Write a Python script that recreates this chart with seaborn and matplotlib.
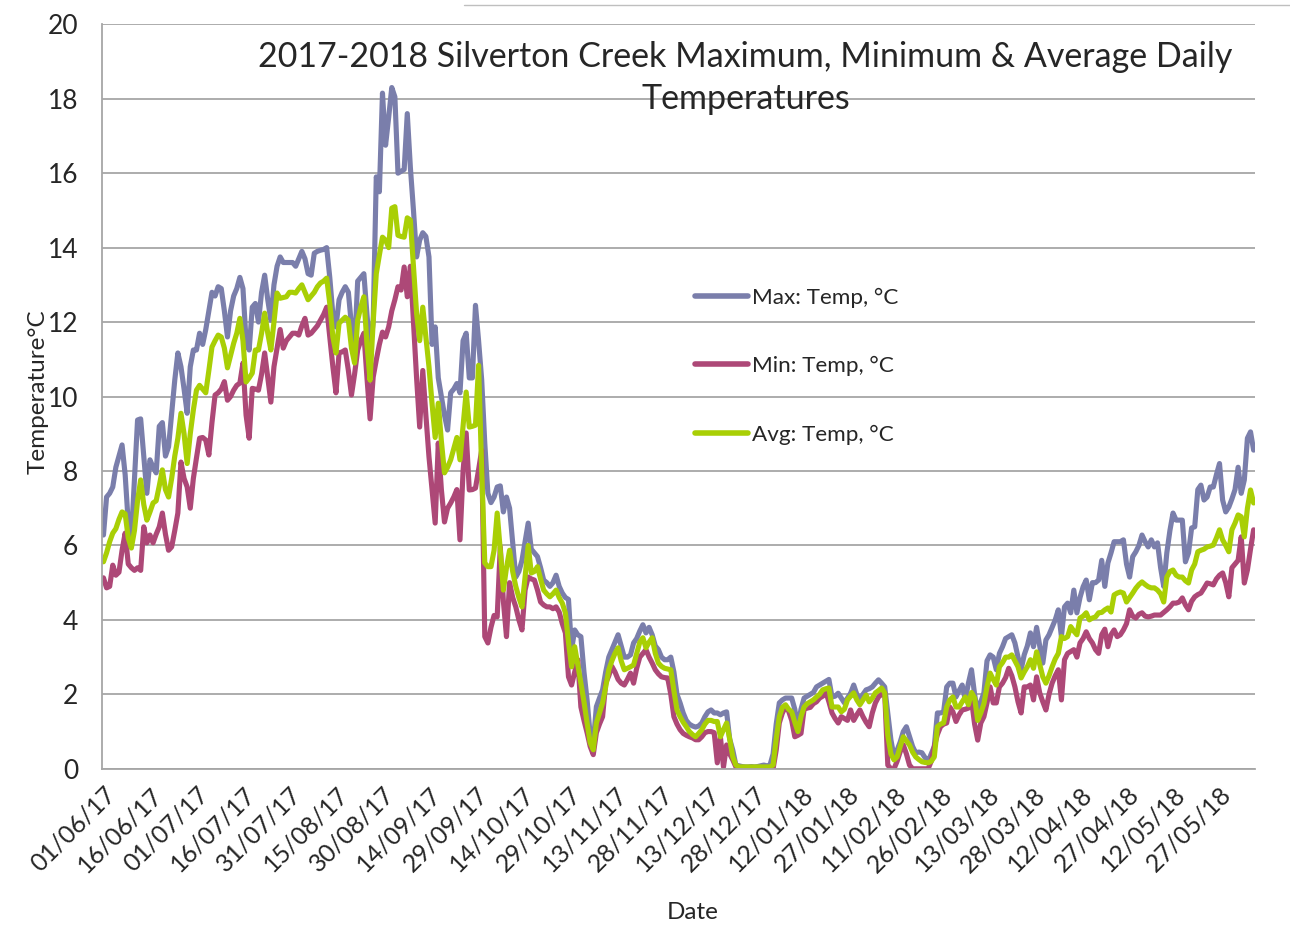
import pandas as pd
import matplotlib
matplotlib.use("Agg")
import matplotlib.pyplot as plt
import seaborn as sns

# daily values, 01/06/17 onwards
start_date = "2017-06-01"

max_temp = [
    6.28, 7.3, 7.4, 7.57, 8.1, 8.4, 8.7, 7.9, 6.6, 6.2,
    7.8, 9.37, 9.4, 8.4, 7.4, 8.3, 8.1, 7.95, 9.2, 9.3,
    8.4, 8.65, 9.55, 10.44, 11.17, 10.8, 10.2, 9.55, 10.8, 11.25,
    11.25, 11.7, 11.4, 11.8, 12.3, 12.8, 12.7, 12.95, 12.9, 12.3,
    11.6, 12.3, 12.7, 12.9, 13.2, 12.9, 11.5, 11.25, 12.4, 12.5,
    12.0, 12.8, 13.26, 12.6, 12.05, 13.0, 13.5, 13.75, 13.6, 13.6,
    13.6, 13.6, 13.5, 13.7, 13.9, 13.7, 13.3, 13.26, 13.85, 13.9,
    13.93, 13.95, 14.0, 13.2, 12.2, 11.87, 12.6, 12.8, 12.95, 12.8,
    11.9, 11.3, 13.1, 13.2, 13.3, 12.2, 11.25, 12.0, 15.9, 15.5,
    18.15, 16.75, 17.5, 18.3, 18.05, 16.0, 16.05, 16.1, 17.6, 16.15,
    15.0, 13.75, 14.2, 14.4, 14.3, 13.75, 11.4, 11.87, 10.5, 10.0,
    9.5, 9.1, 10.1, 10.2, 10.35, 10.1, 11.5, 11.7, 10.5, 10.5,
    12.45, 11.5, 10.45, 8.75, 7.4, 7.15, 7.3, 7.57, 7.6, 6.9,
    7.3, 7.0, 6.07, 5.15, 5.3, 5.6, 6.1, 6.6, 5.9, 5.8,
    5.7, 5.4, 5.07, 5.0, 4.9, 5.0, 5.2, 4.9, 4.72, 4.6,
    4.55, 3.2, 3.73, 3.6, 3.55, 2.6, 1.85, 0.9, 0.7, 1.67,
    1.9, 2.12, 2.6, 3.0, 3.2, 3.4, 3.6, 3.3, 3.0, 3.0,
    3.06, 3.38, 3.5, 3.7, 3.87, 3.65, 3.8, 3.6, 3.3, 3.2,
    3.0, 2.93, 2.93, 3.0, 2.6, 2.0, 1.77, 1.5, 1.3, 1.2,
    1.15, 1.12, 1.15, 1.23, 1.4, 1.53, 1.58, 1.5, 1.5, 1.45,
    1.5, 1.53, 0.8, 0.5, 0.1, 0.08, 0.06, 0.05, 0.05, 0.06,
    0.05, 0.06, 0.08, 0.1, 0.08, 0.1, 0.4, 1.2, 1.77, 1.85,
    1.9, 1.9, 1.9, 1.6, 1.1, 1.6, 1.9, 1.95, 2.0, 2.05,
    2.2, 2.25, 2.3, 2.35, 2.4, 1.93, 1.95, 2.03, 1.9, 1.77,
    1.9, 2.03, 2.25, 2.0, 1.85, 2.0, 2.12, 2.15, 2.2, 2.3,
    2.39, 2.3, 2.2, 1.5, 0.78, 0.32, 0.5, 0.72, 1.0, 1.13,
    0.86, 0.6, 0.43, 0.45, 0.43, 0.3, 0.19, 0.4, 0.6, 1.5,
    1.5, 1.53, 2.2, 2.3, 2.3, 1.93, 2.1, 2.25, 1.85, 2.3,
    2.66, 2.0, 1.5, 1.8, 2.04, 2.9, 3.06, 3.0, 2.66, 3.1,
    3.28, 3.5, 3.55, 3.6, 3.38, 3.0, 2.66, 3.06, 3.3, 3.65,
    3.28, 3.8, 3.3, 2.84, 3.46, 3.6, 3.8, 4.0, 4.27, 3.55,
    4.35, 4.45, 4.19, 4.8, 4.19, 4.6, 4.89, 5.07, 4.54, 5.0,
    5.0, 5.07, 5.6, 4.9, 5.53, 5.8, 6.1, 6.1, 6.1, 6.15,
    5.5, 5.15, 5.7, 5.83, 6.0, 6.28, 6.1, 5.96, 6.15, 5.96,
    6.07, 5.4, 4.9, 5.8, 6.4, 6.87, 6.68, 6.68, 6.68, 5.56,
    5.8, 6.47, 6.5, 7.5, 7.62, 7.22, 7.3, 7.57, 7.57, 7.9,
    8.2, 7.22, 6.9, 7.03, 7.25, 7.5, 8.1, 7.4, 7.76, 8.88,
    9.05, 8.56,
]

min_temp = [
    5.13, 4.86, 4.9, 5.47, 5.2, 5.28, 5.87, 6.33, 5.5, 5.4,
    5.33, 5.4, 5.33, 6.5, 6.07, 6.28, 6.07, 6.3, 6.5, 6.87,
    6.3, 5.87, 5.96, 6.4, 6.87, 8.24, 7.8, 7.57, 7.0, 7.8,
    8.35, 8.88, 8.9, 8.83, 8.43, 9.3, 10.04, 10.1, 10.2, 10.4,
    9.9, 10.0, 10.17, 10.3, 10.36, 10.9, 9.5, 8.88, 10.22, 10.2,
    10.17, 10.6, 11.17, 10.5, 9.85, 10.8, 11.3, 11.8, 11.3, 11.5,
    11.6, 11.7, 11.7, 11.65, 11.9, 12.1, 11.65, 11.7, 11.8, 11.9,
    12.05, 12.2, 12.4, 11.6, 10.8, 10.1, 11.17, 11.2, 11.25, 10.7,
    10.04, 10.6, 11.25, 11.5, 11.7, 10.5, 9.4, 10.52, 10.98, 11.4,
    11.73, 11.6, 11.87, 12.3, 12.6, 12.95, 12.86, 13.48, 12.68, 13.5,
    12.0, 10.5, 9.18, 10.7, 9.5, 8.38, 7.5, 6.6, 8.75, 7.5,
    6.63, 7.0, 7.14, 7.3, 7.5, 6.15, 8.0, 9.02, 7.49, 7.5,
    7.54, 8.03, 8.56, 3.55, 3.38, 3.8, 4.12, 4.08, 5.96, 4.5,
    3.55, 5.0, 4.6, 4.35, 4.0, 3.73, 4.8, 5.15, 5.1, 5.07,
    4.8, 4.48, 4.4, 4.35, 4.35, 4.3, 4.35, 4.21, 3.9, 3.65,
    2.47, 2.25, 2.6, 2.93, 1.66, 1.3, 0.97, 0.6, 0.38, 0.97,
    1.2, 1.4, 2.3, 2.5, 2.75, 2.6, 2.4, 2.3, 2.25, 2.4,
    2.57, 2.3, 2.7, 3.0, 3.1, 3.2, 3.0, 2.84, 2.66, 2.55,
    2.47, 2.45, 2.44, 2.0, 1.4, 1.2, 1.05, 0.95, 0.9, 0.86,
    0.83, 0.78, 0.78, 0.86, 0.97, 1.0, 1.0, 0.97, 0.16, 0.86,
    0.05, 0.64, 0.4, 0.24, 0.05, 0, 0, 0, 0, 0,
    0, 0, 0, 0, 0, 0, 0, 0.5, 1.23, 1.5,
    1.66, 1.55, 1.3, 0.86, 0.9, 0.95, 1.6, 1.63, 1.65, 1.75,
    1.8, 1.9, 1.95, 2.07, 1.8, 1.5, 1.35, 1.23, 1.4, 1.35,
    1.3, 1.58, 1.3, 1.45, 1.58, 1.4, 1.25, 1.13, 1.5, 1.77,
    1.93, 2.0, 2.04, 0.1, 0, 0, 0.2, 0.46, 0.64, 0.4,
    0.1, 0, 0, 0, 0, 0, 0, 0.2, 0.6, 0.92,
    1.13, 1.2, 1.23, 1.66, 1.53, 1.27, 1.45, 1.58, 1.6, 1.63,
    1.85, 1.2, 0.77, 1.23, 1.4, 1.77, 2.2, 1.77, 1.77, 2.2,
    2.3, 2.45, 2.7, 2.5, 2.2, 1.8, 1.5, 2.2, 2.2, 2.25,
    1.85, 2.47, 2.04, 1.8, 1.58, 2.0, 2.3, 2.5, 2.66, 1.85,
    2.93, 3.1, 3.15, 3.2, 3.0, 3.38, 3.5, 3.68, 3.5, 3.38,
    3.2, 3.1, 3.6, 3.75, 3.28, 3.6, 3.73, 3.55, 3.6, 3.73,
    3.9, 4.27, 4.1, 4.05, 4.15, 4.19, 4.1, 4.08, 4.1, 4.13,
    4.13, 4.13, 4.2, 4.27, 4.35, 4.45, 4.45, 4.48, 4.59, 4.4,
    4.27, 4.5, 4.62, 4.68, 4.72, 4.85, 4.99, 4.97, 4.94, 5.1,
    5.2, 5.26, 5.0, 4.62, 5.4, 5.5, 5.6, 6.23, 4.99, 5.34,
    5.9, 6.42,
]

avg_temp = [
    5.56, 5.8, 6.1, 6.33, 6.45, 6.7, 6.9, 6.85, 6.2, 5.93,
    6.4, 7.2, 7.76, 7.1, 6.68, 6.9, 7.14, 7.2, 7.6, 8.03,
    7.5, 7.3, 7.8, 8.4, 8.88, 9.55, 9.0, 8.2, 9.0, 9.64,
    10.17, 10.3, 10.2, 10.1, 10.7, 11.33, 11.5, 11.65, 11.6, 11.3,
    10.77, 11.1, 11.43, 11.7, 12.1, 11.5, 10.39, 10.5, 10.63, 11.25,
    11.25, 11.7, 12.24, 11.7, 11.25, 12.0, 12.78, 12.64, 12.66, 12.68,
    12.8, 12.8, 12.78, 12.9, 13.0, 12.8, 12.6, 12.7, 12.8, 12.95,
    13.05, 13.1, 13.18, 12.5, 11.6, 11.17, 11.97, 12.05, 12.13, 12.05,
    11.3, 10.9, 12.05, 12.4, 12.68, 11.4, 10.44, 12.0, 13.3, 13.8,
    14.28, 14.2, 14.0, 15.06, 15.1, 14.33, 14.3, 14.28, 14.8, 14.74,
    13.5, 12.24, 11.5, 12.4, 11.6, 10.8, 9.8, 8.9, 9.82, 8.8,
    7.95, 8.1, 8.3, 8.6, 8.9, 8.3, 9.2, 10.12, 9.18, 9.2,
    9.23, 10.84, 8.03, 5.53, 5.43, 5.43, 5.87, 6.87, 5.87, 4.8,
    5.4, 5.87, 5.3, 4.9, 4.6, 4.35, 5.15, 6.0, 5.26, 5.3,
    5.43, 5.1, 4.8, 4.7, 4.62, 4.7, 4.8, 4.6, 4.45, 4.19,
    3.4, 2.74, 3.28, 2.8, 2.3, 1.8, 1.23, 0.7, 0.51, 1.23,
    1.5, 1.77, 2.2, 2.66, 2.9, 3.1, 3.25, 2.9, 2.66, 2.7,
    2.74, 2.79, 3.1, 3.4, 3.52, 3.25, 3.4, 3.52, 3.1, 2.84,
    2.75, 2.7, 2.68, 2.66, 2.1, 1.58, 1.4, 1.25, 1.13, 1.0,
    0.92, 0.86, 0.95, 1.05, 1.2, 1.3, 1.3, 1.27, 1.27, 0.86,
    1.05, 1.23, 0.8, 0.32, 0.1, 0.05, 0.05, 0.05, 0.05, 0.05,
    0.05, 0.05, 0.05, 0.05, 0.05, 0.05, 0.1, 0.8, 1.4, 1.65,
    1.72, 1.6, 1.53, 1.25, 1.0, 1.4, 1.66, 1.75, 1.8, 1.85,
    1.93, 2.0, 2.12, 2.15, 2.17, 1.66, 1.66, 1.66, 1.53, 1.6,
    1.85, 1.95, 2.04, 1.85, 1.72, 1.85, 1.98, 1.8, 1.9, 2.04,
    2.1, 2.17, 2.04, 0.9, 0.4, 0.24, 0.32, 0.6, 0.86, 0.75,
    0.64, 0.45, 0.32, 0.25, 0.19, 0.17, 0.16, 0.2, 0.32, 1.13,
    1.2, 1.23, 1.66, 1.85, 1.93, 1.66, 1.66, 1.8, 1.93, 1.72,
    2.05, 1.9, 1.3, 1.5, 1.75, 2.2, 2.57, 2.4, 2.25, 2.74,
    2.85, 3.0, 3.0, 3.06, 2.9, 2.74, 2.44, 2.6, 2.74, 2.93,
    2.7, 3.14, 2.8, 2.47, 2.3, 2.5, 2.74, 2.95, 3.1, 3.55,
    3.5, 3.55, 3.82, 3.7, 3.6, 4.05, 4.1, 4.19, 4.0, 4.05,
    4.08, 4.19, 4.2, 4.27, 4.32, 4.21, 4.67, 4.72, 4.75, 4.72,
    4.48, 4.6, 4.72, 4.85, 4.95, 5.02, 4.95, 4.89, 4.86, 4.86,
    4.8, 4.7, 4.48, 5.15, 5.3, 5.34, 5.2, 5.15, 5.15, 5.05,
    4.99, 5.34, 5.5, 5.83, 5.87, 5.9, 5.96, 5.98, 6.01, 6.2,
    6.42, 6.15, 6.0, 5.83, 6.42, 6.6, 6.82, 6.77, 6.23, 7.0,
    7.49, 7.14,
]

series_names = ["Max: Temp, °C", "Min: Temp, °C", "Avg: Temp, °C"]
colors = ["#7A7EAB", "#AD4877", "#A9CF05"]

dates = pd.date_range(start_date, periods=len(max_temp), freq="D")
wide = pd.DataFrame({
    "day": range(len(dates)),
    series_names[0]: max_temp,
    series_names[1]: min_temp,
    series_names[2]: avg_temp,
})
df = wide.melt(id_vars="day", var_name="series", value_name="temp")

sns.set_style("white")
plt.rcParams["font.family"] = ["Lato", "DejaVu Sans"]

fig = plt.figure(figsize=(12.9, 9.33), dpi=100)
ax = fig.add_axes([0.079, 0.176, 0.894, 0.798])

sns.lineplot(data=df, x="day", y="temp", hue="series", palette=dict(zip(series_names, colors)),
             linewidth=3.7, ax=ax, solid_capstyle="round", solid_joinstyle="round")

n = len(dates)
ax.set_xlim(-0.5, n - 0.5)
ax.set_ylim(0, 20)
ax.set_yticks(range(0, 21, 2))
ax.yaxis.grid(True, color="#A6A6A6", linewidth=1.3)
ax.set_axisbelow(True)

# labels every 15 days, small ticks between every day
label_pos = list(range(0, n, 15))
ax.set_xticks(label_pos)
ax.set_xticklabels([dates[i].strftime("%d/%m/%y") for i in label_pos],
                   rotation=45, ha="right", rotation_mode="anchor", fontsize=17.8)
ax.set_xticks([i - 0.5 for i in range(n + 1)], minor=True)
ax.tick_params(axis="x", which="major", length=0, pad=10)
ax.tick_params(axis="x", which="minor", length=8, color="#A6A6A6", width=1)
ax.tick_params(axis="y", which="major", length=8, color="#A6A6A6", width=1.2, labelsize=19, pad=9)

for side in ["top", "right"]:
    ax.spines[side].set_visible(False)
for side in ["left", "bottom"]:
    ax.spines[side].set_color("#A6A6A6")
    ax.spines[side].set_linewidth(1.3)

ax.set_xlabel("Date", fontsize=17.5)
ax.set_ylabel("Temperature°C", fontsize=17.5)
ax.xaxis.set_label_coords(0.512, -0.193)
ax.xaxis.label.set_va("center")
ax.yaxis.set_label_coords(-0.0555, 0.506)
ax.yaxis.label.set_va("center")

ax.text(0.558, 0.977, "2017-2018 Silverton Creek Maximum, Minimum & Average Daily\nTemperatures",
        transform=ax.transAxes, ha="center", va="top", fontsize=24.5, linespacing=1.38)

leg = ax.legend(loc="center left", bbox_to_anchor=(0.497, 0.541), frameon=False, fontsize=16.2,
                labelspacing=2.15, handlelength=2.35, handletextpad=0.15)
for line in leg.get_lines():
    line.set_linewidth(4)

# thin chart-area border seen along the top edge
fig.add_artist(plt.Line2D([0.36, 1.0], [0.9946, 0.9946], transform=fig.transFigure,
                          color="#BFBFBF", linewidth=1))

fig.savefig("out.png", dpi=100)
